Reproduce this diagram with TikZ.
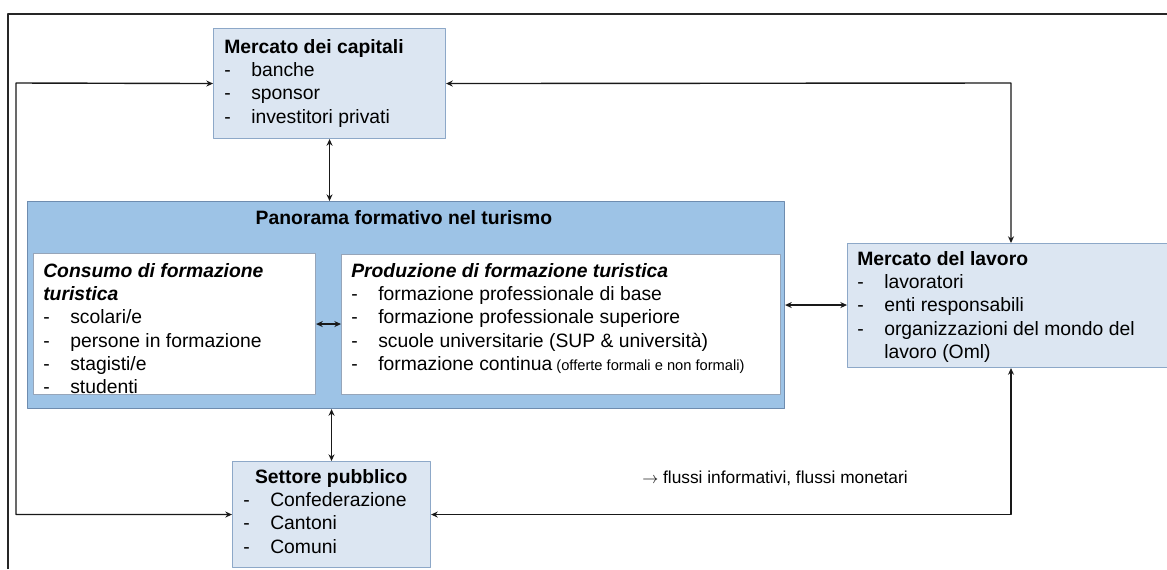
\documentclass[tikz,border=0pt]{standalone}
\usepackage{fontspec}
\setmainfont{Liberation Sans}
\usetikzlibrary{arrows.meta}
\definecolor{capfill}{RGB}{220,230,242}
\definecolor{capline}{RGB}{141,168,200}
\definecolor{panofill}{RGB}{157,195,230}
\definecolor{panoline}{RGB}{110,140,175}
\definecolor{whiteline}{RGB}{150,165,185}
\newcommand{\voce}[1]{\makebox[20.25pt][l]{-}#1}
\begin{document}
\begin{tikzpicture}[x=0.75pt,y=-0.75pt,>={Stealth[length=5pt,width=4.5pt]},line join=round,
		font={\fontsize{14.5}{17.5}\selectfont},
		scatola/.style={draw=capline,fill=capfill,line width=0.8pt,inner sep=0pt,anchor=north west},
		bianca/.style={draw=whiteline,fill=white,line width=0.8pt,inner sep=0pt,anchor=north west},
		testo/.style={inner sep=0pt,anchor=base west},
		flusso/.style={<->,line width=1.05pt,black!90}]
	\useasboundingbox (0,0) rectangle (1167,569);
	% cornice
	\coordinate (fa) at (8,14);
	\coordinate (fb) at (1167,14);
	\coordinate (fc) at (8,569);
	\draw[line width=0.9pt,black!85] (fc)--(fa)--(fb);
	% riquadri
	\node[scatola,minimum width=174pt,minimum height=82.5pt] (cap) at (213,28) {};
	\node[draw=panoline,fill=panofill,line width=0.8pt,inner sep=0pt,anchor=north west,minimum width=567.75pt,minimum height=155.25pt] (pano) at (27,201) {};
	\node[bianca,minimum width=211.5pt,minimum height=105.75pt] (cons) at (33,253) {};
	\node[bianca,minimum width=329.25pt,minimum height=105pt] (prod) at (341,254) {};
	\node[scatola,minimum width=247.5pt,minimum height=93pt] (lav) at (847,243) {};
	\node[scatola,minimum width=148.5pt,minimum height=79.5pt] (sett) at (232,461) {};
	% testi
	\node[testo] (capT) at (224,53) {\parbox[t]{200pt}{\textbf{Mercato dei capitali}\\\voce{banche}\\\voce{sponsor}\\\voce{investitori privati}}};
	\node[inner sep=0pt,anchor=base] (panoT) at (404,224) {\textbf{Panorama formativo nel turismo}};
	\node[testo] (consT) at (43,277) {\parbox[t]{250pt}{\textbf{\textit{Consumo di formazione}}\\\textbf{\textit{turistica}}\\\voce{scolari/e}\\\voce{persone in formazione}\\\voce{stagisti/e}\\\voce{studenti}}};
	\node[testo] (prodT) at (351,277) {\parbox[t]{320pt}{\textbf{\textit{Produzione di formazione turistica}}\\\voce{formazione professionale di base}\\\voce{formazione professionale superiore}\\\voce{scuole universitarie (SUP \& università)}\\\voce{formazione continua{\fontsize{11}{13}\selectfont{} (offerte formali e non formali)}}}};
	\node[testo] (lavT) at (857,265) {\parbox[t]{240pt}{\textbf{Mercato del lavoro}\\\voce{lavoratori}\\\voce{enti responsabili}\\\voce{organizzazioni del mondo del}\\\hspace*{20.25pt}lavoro (Oml)}};
	\node[testo] (settT) at (243,483) {\parbox[t]{132pt}{\centerline{\textbf{Settore pubblico}}\voce{Confederazione}\\\voce{Cantoni}\\\voce{Comuni}}};
	\node[testo,font={\fontsize{13}{15}\selectfont}] (leg) at (642,483) {$\rightarrow$ flussi informativi, flussi monetari};
	% flussi
	\coordinate (lc) at (16,83);
	\coordinate (rc) at (1011,83);
	\draw[flusso] (cap.west)--(lc)--(lc|-sett.west)--(sett.west);
	\draw[flusso] (cap.east)--(rc)--(rc|-lav.north);
	\draw[flusso] (lav.south-|rc)--(rc|-sett.east)--(sett.east);
	\draw[flusso] (cap.south)--(cap.south|-pano.north);
	\draw[flusso] (pano.south-|sett.north)--(sett.north);
	\draw[flusso] (cons.east)--(cons.east-|prod.west);
	\draw[flusso] (pano.east)--(pano.east-|lav.west);
\end{tikzpicture}
\end{document}
